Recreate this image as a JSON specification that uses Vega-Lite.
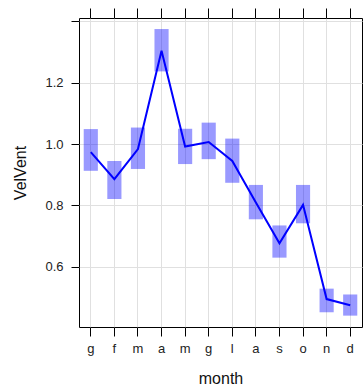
{
  "$schema": "https://vega.github.io/schema/vega-lite/v6.json",
  "width": 283,
  "height": 309,
  "autosize": "none",
  "padding": {"left": 79, "top": 18, "right": 1, "bottom": 63},
  "config": {
    "view": {"stroke": "#000", "strokeWidth": 1},
    "font": "Liberation Sans",
    "axis": {
      "domain": false,
      "tickColor": "#000",
      "tickWidth": 1,
      "gridColor": "#e0e0e0",
      "gridWidth": 1,
      "labelFont": "Liberation Sans",
      "labelFontSize": 13,
      "labelColor": "#222",
      "titleFont": "Liberation Sans",
      "titleFontSize": 16,
      "titleFontWeight": "normal",
      "titleColor": "#111"
    }
  },
  "data": {
    "values": [
      {"month": "gen", "v": 0.974, "lo": 0.913, "hi": 1.049},
      {"month": "feb", "v": 0.886, "lo": 0.821, "hi": 0.945},
      {"month": "mar", "v": 0.984, "lo": 0.919, "hi": 1.054},
      {"month": "apr", "v": 1.304, "lo": 1.237, "hi": 1.375},
      {"month": "mag", "v": 0.992, "lo": 0.935, "hi": 1.050},
      {"month": "giu", "v": 1.007, "lo": 0.951, "hi": 1.070},
      {"month": "lug", "v": 0.945, "lo": 0.874, "hi": 1.018},
      {"month": "ago", "v": 0.810, "lo": 0.755, "hi": 0.867},
      {"month": "set", "v": 0.677, "lo": 0.630, "hi": 0.735},
      {"month": "ott", "v": 0.802, "lo": 0.742, "hi": 0.867},
      {"month": "nov", "v": 0.495, "lo": 0.452, "hi": 0.529},
      {"month": "dic", "v": 0.475, "lo": 0.441, "hi": 0.510}
    ]
  },
  "resolve": {"axis": {"x": "independent"}},
  "layer": [
    {
      "mark": {"type": "bar", "color": "#0000ff", "opacity": 0.4},
      "encoding": {
        "x": {
          "field": "month",
          "type": "ordinal",
          "sort": ["gen", "feb", "mar", "apr", "mag", "giu", "lug", "ago", "set", "ott", "nov", "dic"],
          "scale": {"paddingInner": 0.4, "paddingOuter": 0.2},
          "axis": {
            "orient": "bottom",
            "title": "month",
            "labelAngle": 0,
            "labelExpr": "substring(datum.label, 0, 1)",
            "tickSize": 9,
            "labelPadding": 6,
            "titlePadding": 15,
            "grid": true
          }
        },
        "y": {
          "field": "lo",
          "type": "quantitative",
          "scale": {"domain": [0.404, 1.411], "nice": false, "zero": false},
          "axis": {
            "title": "VelVent",
            "values": [0.6, 0.8, 1.0, 1.2, 1.4],
            "labelExpr": "datum.value > 1.3 ? '' : format(datum.value, '.1f')",
            "tickSize": 8,
            "labelPadding": 8,
            "titlePadding": 16,
            "grid": true
          }
        },
        "y2": {"field": "hi"}
      }
    },
    {
      "mark": {"type": "line", "color": "#0000ff", "strokeWidth": 2},
      "encoding": {
        "x": {
          "field": "month",
          "type": "ordinal",
          "sort": ["gen", "feb", "mar", "apr", "mag", "giu", "lug", "ago", "set", "ott", "nov", "dic"],
          "axis": {"orient": "top", "labels": false, "title": null, "tickSize": 10, "grid": false}
        },
        "y": {"field": "v", "type": "quantitative"}
      }
    }
  ]
}
